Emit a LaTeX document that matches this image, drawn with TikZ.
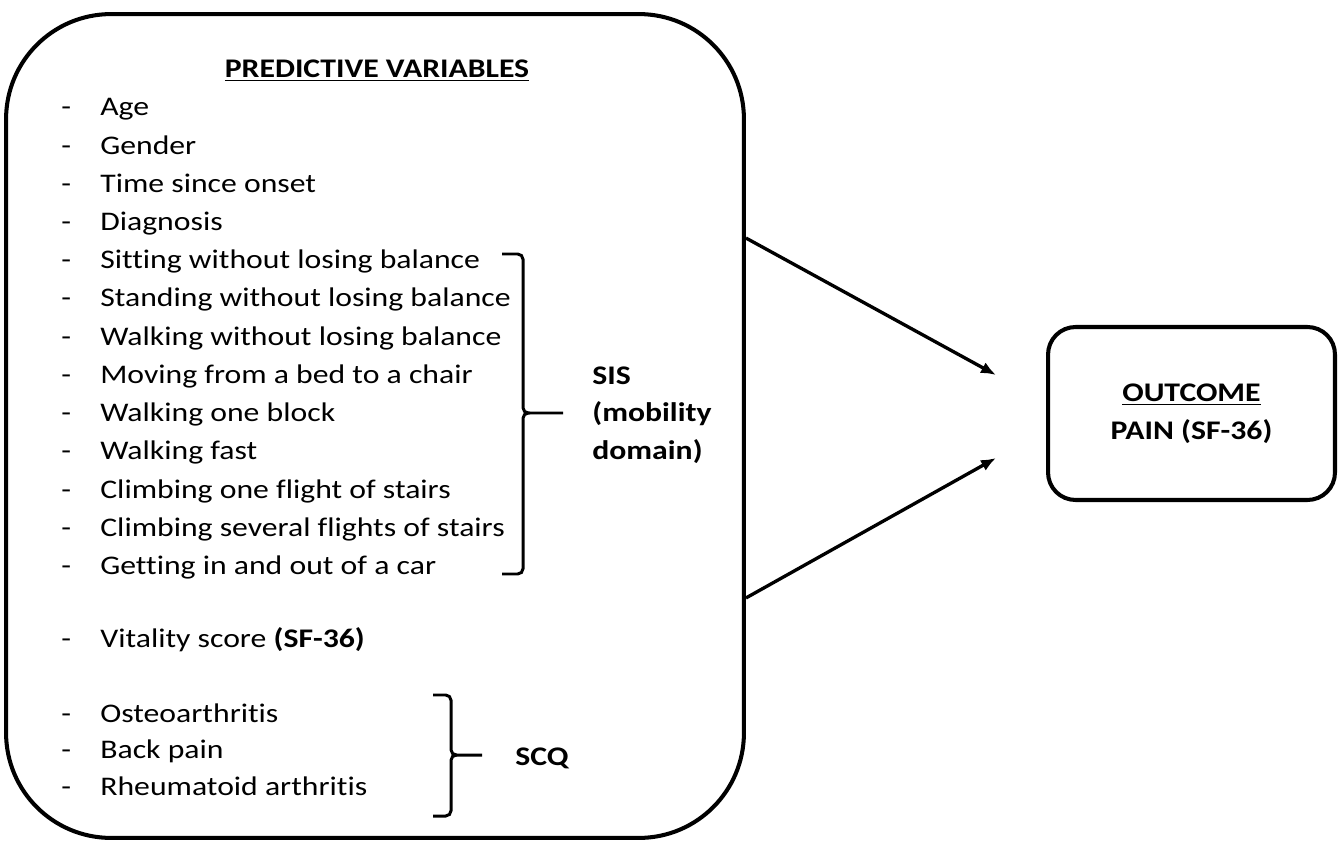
\documentclass[tikz,border=0pt]{standalone}
\usepackage{fontspec}
\setmainfont[FakeStretch=1.18,Ligatures=NoCommon]{Carlito}
\usepackage{tikz}
\usetikzlibrary{arrows.meta}

\newcommand{\dashitem}{\makebox[0.78cm][l]{-}}

\begin{document}
\begin{tikzpicture}[x=0.02cm,y=-0.02cm,
    box/.style={draw,line width=2.3pt,rounded corners=#1},
    var/.style={anchor=base west,inner sep=0pt,font=\fontsize{15.3}{18}\selectfont},
    lab/.style={anchor=west,align=left,inner sep=0pt,font=\fontsize{15.3}{21.3}\selectfont\bfseries},
    arrow/.style={line width=1.9pt,-{Latex[length=0.3cm,width=0.24cm]}},
    bracket/.style={line width=1.7pt,rounded corners=3pt}]
    \useasboundingbox (0,0) rectangle (1341,844);

    \node[box=2.1cm,minimum width=14.76cm,minimum height=16.48cm] (pred) at (375,426) {};
    \node[box=0.55cm,minimum width=5.74cm,minimum height=3.46cm,align=center,
          font=\fontsize{15.3}{21.5}\selectfont\bfseries] (outcome) at (1191.5,413.5)
          {\underline{OUTCOME}\\PAIN (SF-36)};

    \node[anchor=base,inner sep=0pt,font=\fontsize{15.3}{18}\selectfont\bfseries] (title) at (377,78)
          {\underline{PREDICTIVE VARIABLES}};

    \node[var] (age) at (61,116) {\dashitem Age};
    \node[var] (gender) at (61,154.2) {\dashitem Gender};
    \node[var] (onset) at (61,192.4) {\dashitem Time since onset};
    \node[var] (diagnosis) at (61,230.6) {\dashitem Diagnosis};
    \node[var] (sitting) at (61,268.8) {\dashitem Sitting without losing balance};
    \node[var] (standing) at (61,307) {\dashitem Standing without losing balance};
    \node[var] (walking) at (61,345.2) {\dashitem Walking without losing balance};
    \node[var] (moving) at (61,383.4) {\dashitem Moving from a bed to a chair};
    \node[var] (block) at (61,421.6) {\dashitem Walking one block};
    \node[var] (fast) at (61,459.8) {\dashitem Walking fast};
    \node[var] (oneflight) at (61,498) {\dashitem Climbing one flight of stairs};
    \node[var] (flights) at (61,536.2) {\dashitem Climbing several flights of stairs};
    \node[var] (car) at (61,574.4) {\dashitem Getting in and out of a car};
    \node[var] (vitality) at (61,647) {\dashitem Vitality score \textbf{(SF-36)}};
    \node[var] (osteo) at (61,722) {\dashitem Osteoarthritis};
    \node[var] (backpain) at (61,758.5) {\dashitem Back pain};
    \node[var] (rheuma) at (61,795) {\dashitem Rheumatoid arthritis};

    \node[lab] (sis) at (592,415) {SIS\\(mobility\\domain)};
    \node[lab,anchor=base west] (scq) at (515,765) {SCQ};

    \draw[bracket] (502,254) -- (523,254) -- (523,413) -- (530,413) -- (563,413);
    \draw[bracket] (530,413) -- (523,413) -- (523,574) -- (502,574);
    \draw[bracket] (433,695) -- (451,695) -- (451,755) -- (457,755) -- (482,755);
    \draw[bracket] (457,755) -- (451,755) -- (451,816) -- (433,816);

    \coordinate (in1) at ([xshift=-1.0cm,yshift=0.77cm]outcome.west);
    \coordinate (in2) at ([xshift=-1.0cm,yshift=-0.89cm]outcome.west);
    \draw[arrow] ([yshift=3.76cm]pred.east) -- (in1);
    \draw[arrow] ([yshift=-3.44cm]pred.east) -- (in2);
\end{tikzpicture}
\end{document}
